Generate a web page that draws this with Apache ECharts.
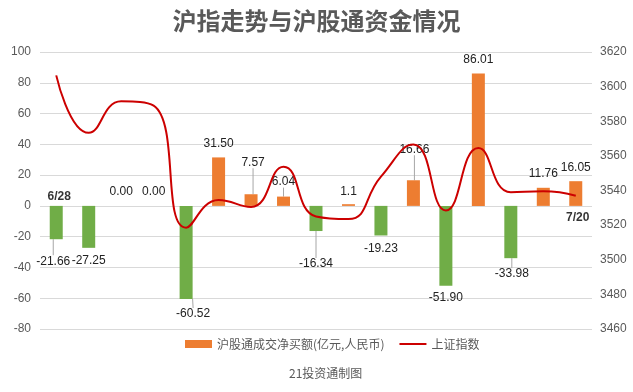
<!DOCTYPE html>
<html>
<head>
<meta charset="utf-8">
<script src="https://cdn.jsdelivr.net/npm/echarts@6/dist/echarts.min.js"></script>
<style>html,body{margin:0;padding:0;background:#fff;}#c{width:633px;height:392px;}</style>
</head>
<body>
<div id="c"></div>
<script>
// ---- data ----
var categories = ['6/28','6/29','6/30','7/1','7/2','7/5','7/6','7/7','7/8','7/9','7/12','7/13','7/14','7/15','7/16','7/19','7/20'];
var netBuy = [-21.66, -27.25, 0.00, 0.00, -60.52, 31.50, 7.57, 6.04, -16.34, 1.1, -19.23, 16.66, -51.90, 86.01, -33.98, 11.76, 16.05];
var netBuyLabels = ['-21.66','-27.25','0.00','0.00','-60.52','31.50','7.57','6.04','-16.34','1.1','-19.23','16.66','-51.90','86.01','-33.98','11.76','16.05'];
var shIndex = [3606.5, 3573.3, 3591.5, 3589.0, 3518.5, 3534.5, 3530.5, 3553.7, 3525.0, 3523.5, 3548.0, 3566.5, 3528.5, 3564.5, 3539.0, 3539.5, 3537.0];
var shownDates = ['6/28', '7/20'];
var leftTicks = {min: -80, max: 100, interval: 20};
var rightTicks = {min: 3460, max: 3620, interval: 20};

// ---- label styling (offsets only) ----
var labelDx = [-3, 0, 0, 0, 7, 0, 2, 0, 0, 0, 0, 1, 0, 0, 1, 0, 0];
var labelDy = [11, 2, -3, -3, 4, -3, -21, -4, 22, -2, 2, -20, 1, -3, 5, -3, -3];
var withLine = [true, false, false, false, true, false, true, true, true, false, false, true, false, false, true, false, false];

var chart = echarts.init(document.getElementById('c'));
var barData = netBuy.map(function (v, i) {
  return {
    value: v,
    itemStyle: {color: v < 0 ? '#70AD47' : '#ED7D31'},
    label: {position: v < 0 ? 'bottom' : 'top', formatter: netBuyLabels[i]},
    labelLine: {show: withLine[i]}
  };
});
var axisFont = 'Liberation Sans, Noto Sans CJK SC, sans-serif';
// date marks placed on the zero line of the category axis
var dateMarks = shownDates.map(function (d, k) {
  var i = categories.indexOf(d);
  var above = netBuy[i] < 0;
  return {
    value: [d, 0],
    label: {position: above ? 'top' : 'bottom', distance: above ? 3 : 6, offset: [k === 0 ? 3 : 2, 0]}
  };
});
chart.setOption({
  animation: false,
  backgroundColor: '#ffffff',
  textStyle: {fontFamily: 'Noto Sans CJK SC, Liberation Sans, sans-serif'},
  title: [
    {text: '沪指走势与沪股通资金情况', left: 'center', top: 4,
     textStyle: {fontSize: 24, fontWeight: 'bold', color: '#595959', fontFamily: 'Noto Sans CJK SC'}},
    {text: '21投资通制图', left: 284, top: 362,
     textStyle: {fontSize: 12, fontWeight: 'normal', color: '#595959', fontFamily: 'Noto Sans CJK SC'}}
  ],
  legend: {
    left: 180, top: 333, itemWidth: 27, itemHeight: 8, itemGap: 14,
    textStyle: {fontSize: 12, color: '#595959'},
    data: [
      {name: '沪股通成交净买额(亿元,人民币)', icon: 'rect', itemStyle: {color: '#ED7D31'}},
      {name: '上证指数', itemStyle: {opacity: 0, borderWidth: 0}, lineStyle: {color: '#CC0000', width: 2}}
    ]
  },
  grid: {left: 40, right: 41, top: 52, bottom: 63},
  xAxis: {
    type: 'category', data: categories, position: 'bottom',
    axisLine: {show: false}, axisTick: {show: false}, axisLabel: {show: false}
  },
  yAxis: [
    {type: 'value', min: leftTicks.min, max: leftTicks.max, interval: leftTicks.interval,
     axisLine: {show: false}, axisTick: {show: false},
     axisLabel: {color: '#595959', fontSize: 12, margin: 9, fontFamily: axisFont},
     splitLine: {lineStyle: {color: '#d9d9d9', width: 1}}},
    {type: 'value', min: rightTicks.min, max: rightTicks.max, interval: rightTicks.interval,
     axisLine: {show: false}, axisTick: {show: false},
     axisLabel: {color: '#595959', fontSize: 12, margin: 8, fontFamily: axisFont,
       formatter: function (v) { return String(v); }},
     splitLine: {show: false}}
  ],
  series: [
    {name: '沪股通成交净买额(亿元,人民币)', type: 'bar', yAxisIndex: 0,
     barWidth: 13, data: barData, itemStyle: {color: '#ED7D31'},
     label: {show: true, distance: 5, fontSize: 12, color: '#222', fontFamily: axisFont},
     labelLine: {lineStyle: {color: '#a6a6a6', width: 1}},
     labelLayout: function (p) { return {dx: labelDx[p.dataIndex], dy: labelDy[p.dataIndex]}; }},
    {name: '上证指数', type: 'line', yAxisIndex: 1, data: shIndex,
     smooth: 0.5, symbol: 'none', z: 5,
     lineStyle: {color: '#CC0000', width: 2}, itemStyle: {color: '#CC0000'}},
    {name: 'dates', type: 'scatter', yAxisIndex: 0, data: dateMarks, symbolSize: 0, silent: true, z: 6,
     label: {show: true, fontSize: 12, fontWeight: 'bold', color: '#000', fontFamily: axisFont,
       formatter: function (p) { return p.value[0]; }}}
  ]
});
</script>
</body>
</html>
